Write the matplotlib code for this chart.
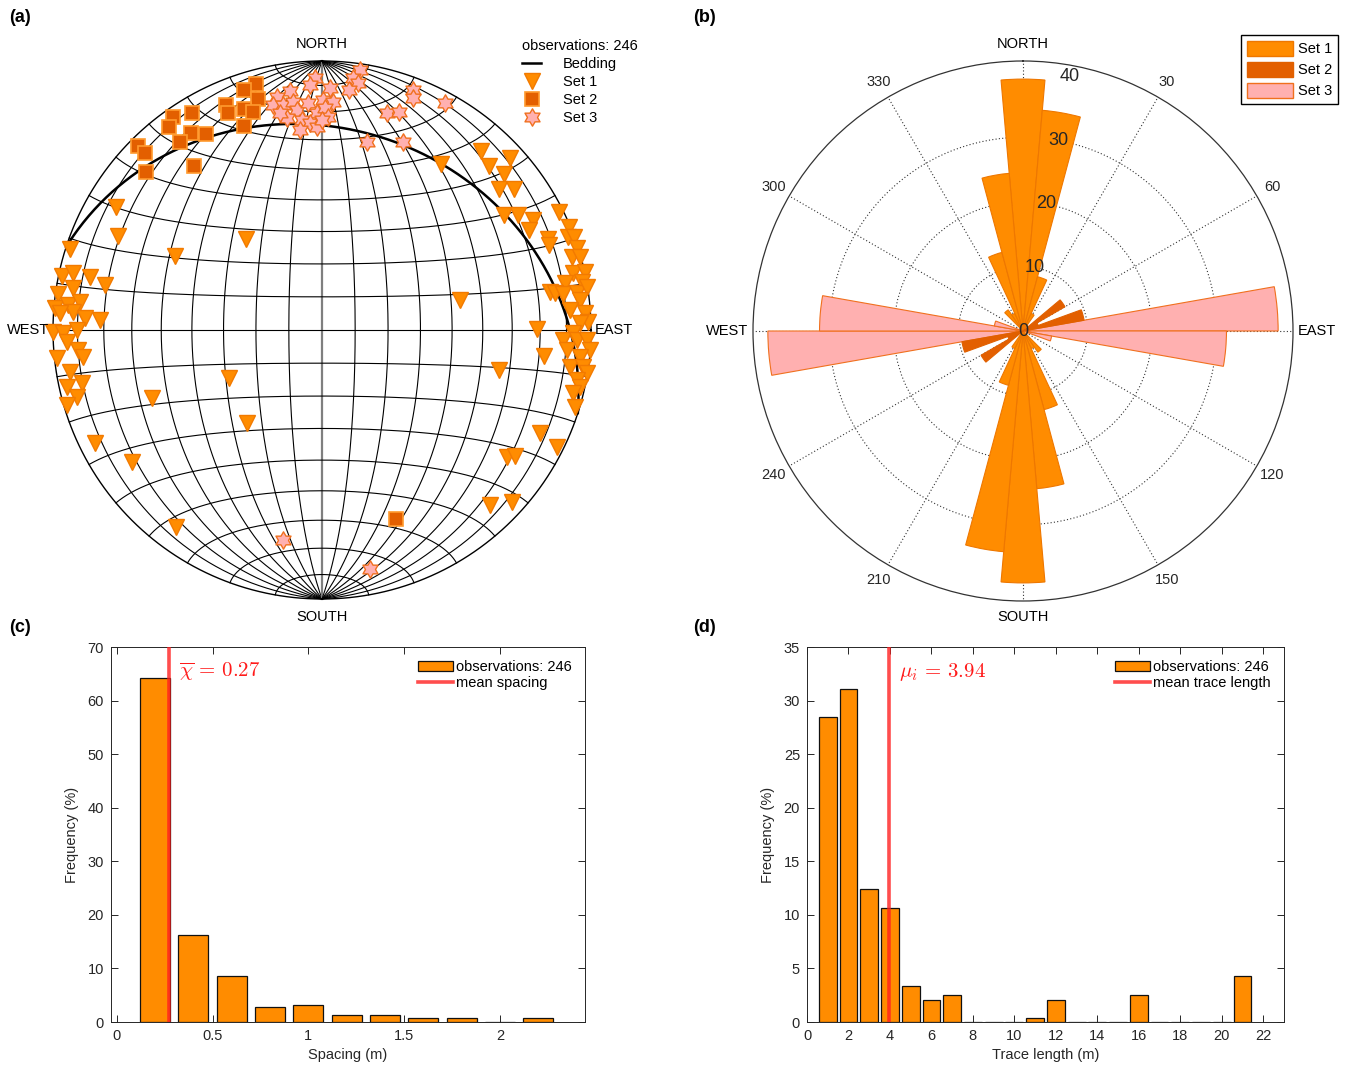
import numpy as np
import matplotlib
matplotlib.use('Agg')
import matplotlib.pyplot as plt
from matplotlib.path import Path
from matplotlib.lines import Line2D
from matplotlib.patches import Patch

plt.rcParams['font.family'] = ['Liberation Sans', 'DejaVu Sans']
plt.rcParams['mathtext.fontset'] = 'cm'

# ---------------- data ----------------
# (a) poles to joints (lower hemisphere, equal-area): trend / plunge in degrees
set1_trend = [35.6, 41.6, 47.5, 45.5, 49.4, 51.5, 53.7, 57.7, 59.6, 62.5, 64.2, 68.1, 69.5, 63.5, 67.4,
              69.3, 69.8, 72.2, 73.7, 74.2, 77.2, 77.6, 79.5, 79.1, 80.5, 81.0, 81.5, 81.7, 80.8, 77.7,
              89.7, 96.7, 102.7, 83.4, 85.4, 86.3, 88.3, 88.4, 90.7, 92.4, 94.7, 92.2, 92.2, 94.3, 96.0,
              98.5, 98.1, 99.2, 101.1, 102.5, 104.1, 106.9, 115.3, 116.5, 124.5, 123.1, 136.2, 132.2,
              300.8, 294.7, 287.8, 320.1, 296.7, 281.7, 282.9, 282.9, 281.7, 279.6, 277.8, 274.7, 275.6,
              276.6, 274.1, 273.7, 272.9, 272.6, 269.6, 269.3, 270.0, 267.3, 265.3, 263.6, 264.0, 260.5,
              257.6, 257.4, 254.7, 253.6, 248.2, 242.7, 218.9, 243.5, 235.2, 216.5]
set1_plunge = [25.0, 11.9, 5.9, 14.0, 11.8, 17.0, 12.4, 21.1, 16.6, 12.5, 15.6, 10.3, 10.8, 1.7, 0.6,
               2.4, 0.0, 0.5, 3.5, 0.4, 4.8, 0.0, 1.9, 8.8, 15.1, 13.2, 10.3, 4.7, 0.2, 46.4,
               21.2, 18.0, 33.0, 3.9, 8.3, 2.2, 1.2, 4.5, 7.4, 11.2, 9.4, 5.8, 1.6, 0.1, 4.0,
               7.5, 2.2, 0.2, 3.8, 2.0, 4.2, 1.9, 11.3, 2.6, 17.7, 15.4, 10.7, 5.2,
               11.7, 17.6, 1.7, 53.7, 38.7, 1.4, 5.6, 12.5, 18.7, 6.8, 1.0, 0.4, 5.8,
               10.3, 8.0, 2.6, 12.8, 18.5, 0.0, 4.1, 9.8, 5.8, 9.9, 11.5, 1.0, 5.6,
               9.5, 3.2, 6.3, 1.3, 32.4, 58.0, 53.4, 6.4, 15.0, 9.7]
set2_trend = [345.0, 342.0, 344.5, 337.0, 336.5, 340.5, 342.5, 339.0, 329.0, 325.0, 323.0, 326.5,
              329.5, 323.0, 315.0, 315.0, 322.0, 312.0, 158.5]
set2_plunge = [6.0, 7.0, 12.0, 10.0, 13.0, 14.0, 16.0, 20.0, 6.5, 4.0, 6.0, 13.0,
               16.5, 13.5, 3.5, 7.5, 23.5, 13.0, 25.5]
set3_trend = [8.3, 7.0, 8.3, 6.4, 358.4, 357.2, 352.4, 349.0, 347.7, 350.2, 352.8, 353.5, 350.6,
              354.6, 356.5, 358.7, 356.7, 353.7, 358.6, 0.3, 1.9, 2.8, 0.8, 1.6, 0.0, 349.0,
              20.8, 21.4, 28.5, 16.7, 19.5, 13.5, 23.3, 190.5, 168.7]
set3_plunge = [2.7, 6.3, 8.0, 11.0, 7.0, 9.6, 11.3, 12.8, 15.5, 16.2, 15.6, 18.8, 21.2,
               22.6, 16.5, 20.4, 23.9, 26.1, 25.4, 15.6, 10.9, 16.2, 18.6, 21.9, 23.0, 19.0,
               5.1, 8.1, 4.5, 16.9, 15.1, 28.9, 24.8, 21.7, 10.2]
bedding_dipdir = 18.0
bedding_dip = 26.0
n_obs = 246

# (b) rose diagram: strike bins (deg, bin centre) and frequencies, mirrored by 180 deg
rose_set1_centres = [0, 10, 20, 30, 140, 150, 160, 170]
rose_set1_values = [39.0, 34.3, 8.7, 3.0, 4.0, 3.0, 12.6, 24.5]
rose_set2_centres = [55, 65, 75]
rose_set2_values = [7.5, 2.5, 9.6]
rose_set3_centres = [75, 85, 95, 105]
rose_set3_values = [1.0, 39.5, 31.5, 4.5]
rose_bin_width = 10

# (c) spacing histogram
spacing_centres = [0.2, 0.4, 0.6, 0.8, 1.0, 1.2, 1.4, 1.6, 1.8, 2.0, 2.2]
spacing_counts = [158, 40, 21, 7, 8, 3, 3, 2, 2, 0, 2]
mean_spacing = 0.27

# (d) trace length histogram (percent)
trace_centres = list(range(1, 22))
trace_pct = [28.5, 31.1, 12.4, 10.65, 3.35, 2.1, 2.5, 0, 0, 0, 0.4, 2.1, 0, 0, 0, 2.5, 0, 0, 0, 0, 4.25]
mean_trace = 3.94

# ---------------- colours ----------------
c_set1 = '#FF8C00'
c_set1_edge = '#F27A00'
c_set2 = '#E35F00'
c_set2_edge = '#FF9A2E'
c_set3 = '#FFB0B0'
c_set3_edge = '#F0701E'
txt_col = '#262626'

W, H = 1349, 1070
fig = plt.figure(figsize=(W / 100, H / 100), dpi=100)


def ax_px(left, top, width, height, **kw):
    return fig.add_axes([left / W, 1 - (top + height) / H, width / W, height / H], **kw)


def proj(trend, plunge):
    t = np.radians(np.asarray(trend, float))
    p = np.radians(np.asarray(plunge, float))
    r = np.sqrt(2) * np.sin((np.pi / 2 - p) / 2)
    return r * np.sin(t), r * np.cos(t)


def hexagram():
    verts = []
    for i in range(12):
        ang = np.pi / 2 + i * np.pi / 6
        rr = 1.0 if i % 2 == 0 else 1 / np.sqrt(3)
        verts.append((rr * np.cos(ang), rr * np.sin(ang)))
    verts.append(verts[0])
    codes = [Path.MOVETO] + [Path.LINETO] * 11 + [Path.CLOSEPOLY]
    return Path(verts, codes)


HEX = hexagram()

# ---------------- (a) stereonet ----------------
cx, cy, R = 322, 330, 269
lim = 1.04
axa = ax_px(cx - lim * R, cy - lim * R, 2 * lim * R, 2 * lim * R)
axa.set_xlim(-lim, lim)
axa.set_ylim(-lim, lim)
axa.set_aspect('equal')
axa.axis('off')

phi = np.linspace(-np.pi / 2, np.pi / 2, 721)
for lam_d in range(-80, 81, 10):
    lam = np.radians(lam_d)
    den = np.sqrt(1 + np.cos(phi) * np.cos(lam))
    x = np.cos(phi) * np.sin(lam) / den
    y = np.sin(phi) / den
    if lam_d == 0:
        axa.plot(x, y, color='#7f7f7f', lw=1.6, zorder=1)
    else:
        axa.plot(x, y, color='k', lw=0.8, zorder=1)
lam_arr = np.linspace(-np.pi / 2, np.pi / 2, 721)
for phi_d in range(-80, 81, 10):
    ph = np.radians(phi_d)
    den = np.sqrt(1 + np.cos(ph) * np.cos(lam_arr))
    x = np.cos(ph) * np.sin(lam_arr) / den
    y = np.sin(ph) / den
    axa.plot(x, y, color='k', lw=0.8, zorder=1)
tt = np.linspace(0, 2 * np.pi, 721)
axa.plot(np.cos(tt), np.sin(tt), color='k', lw=1.0, zorder=1)

# bedding great circle
dd, dp = np.radians(bedding_dipdir), np.radians(bedding_dip)
th = np.linspace(0, np.pi, 361)
s_vec = np.array([np.cos(dd - np.pi / 2), np.sin(dd - np.pi / 2), 0.0])
d_vec = np.array([np.cos(dp) * np.cos(dd), np.cos(dp) * np.sin(dd), np.sin(dp)])
v = np.outer(np.cos(th), s_vec) + np.outer(np.sin(th), d_vec)
bed_pl = np.degrees(np.arcsin(np.clip(v[:, 2], -1, 1)))
bed_tr = np.degrees(np.arctan2(v[:, 1], v[:, 0]))
bx, by = proj(bed_tr, bed_pl)
axa.plot(bx, by, color='k', lw=1.8, zorder=2)

x1, y1 = proj(set1_trend, set1_plunge)
axa.plot(x1, y1, 'v', ms=11.5, mfc=c_set1, mec=c_set1_edge, mew=1.0, ls='none', zorder=3, clip_on=False)
x2, y2 = proj(set2_trend, set2_plunge)
axa.plot(x2, y2, 's', ms=9.5, mfc=c_set2, mec=c_set2_edge, mew=1.2, ls='none', zorder=4, clip_on=False)
x3, y3 = proj(set3_trend, set3_plunge)
axa.plot(x3, y3, marker=HEX, ms=12.5, mfc=c_set3, mec=c_set3_edge, mew=1.0, ls='none', zorder=5, clip_on=False)

fs = 10.5
axa.text(0, 1.0 + 17 / R, 'NORTH', ha='center', va='center', fontsize=fs, color='k')
axa.text(0, -1.0 - 18 / R, 'SOUTH', ha='center', va='center', fontsize=fs, color='k')
axa.text(-1.0 - 4 / R, 0.0, 'WEST', ha='right', va='center', fontsize=fs, color='k')
axa.text(1.0 + 4 / R, 0.0, 'EAST', ha='left', va='center', fontsize=fs, color='k')

handles_a = [Line2D([], [], color='k', lw=1.8),
             Line2D([], [], marker='v', ms=11.5, mfc=c_set1, mec=c_set1_edge, ls='none'),
             Line2D([], [], marker='s', ms=9.5, mfc=c_set2, mec=c_set2_edge, mew=1.2, ls='none'),
             Line2D([], [], marker=HEX, ms=12.5, mfc=c_set3, mec=c_set3_edge, ls='none')]
leg_a = fig.legend(handles_a, ['Bedding', 'Set 1', 'Set 2', 'Set 3'], title='observations: %d' % n_obs,
                   loc='upper left', bbox_to_anchor=(512 / W, 1 - 29 / H), frameon=False, fontsize=fs,
                   title_fontsize=fs, handlelength=1.3, handletextpad=1.5, labelspacing=0.27,
                   borderpad=0.2, alignment='left')

# ---------------- (b) rose diagram ----------------
rc_x, rc_y, rR = 1023, 331, 270
rmax = 41.8
axb = ax_px(rc_x - rR, rc_y - rR, 2 * rR, 2 * rR, projection='polar')
axb.set_theta_zero_location('N')
axb.set_theta_direction(-1)
axb.set_ylim(0, rmax)
axb.set_yticks([10, 20, 30])
axb.set_yticklabels([])
axb.set_xticks(np.radians(np.arange(0, 360, 30)))
axb.set_xticklabels([])
axb.grid(True, linestyle=(0, (1, 2)), color='#333333', lw=0.8)
axb.spines['polar'].set_linewidth(0.9)
axb.spines['polar'].set_color('#333333')

bw = np.radians(rose_bin_width)
for centres, vals, fc, ec in [(rose_set1_centres, rose_set1_values, c_set1, '#EE7700'),
                              (rose_set3_centres, rose_set3_values, c_set3, c_set3_edge),
                              (rose_set2_centres, rose_set2_values, c_set2, '#E06000')]:
    ang = np.radians(np.concatenate([np.asarray(centres, float), np.asarray(centres, float) + 180]))
    vv = np.concatenate([vals, vals])
    axb.bar(ang, vv, width=bw, color=fc, edgecolor=ec, lw=0.8, zorder=3)

for ang_d in [30, 60, 120, 150, 210, 240, 300, 330]:
    axb.text(np.radians(ang_d), 44.6, str(ang_d), ha='center', va='center', fontsize=10.5,
             color=txt_col, clip_on=False)
axb.text(0, 44.4, 'NORTH', ha='center', va='center', fontsize=fs, color='k', clip_on=False)
axb.text(np.pi, 44.3, 'SOUTH', ha='center', va='center', fontsize=fs, color='k', clip_on=False)
axb.text(np.pi / 2, 42.5, 'EAST', ha='left', va='center', fontsize=fs, color='k', clip_on=False)
axb.text(3 * np.pi / 2, 42.5, 'WEST', ha='right', va='center', fontsize=fs, color='k', clip_on=False)
for rv in [10, 20, 30, 40]:
    axb.text(np.radians(10.5), rv, str(rv), ha='center', va='center', fontsize=13, color=txt_col, zorder=6)
axb.text(0, 0, '0', ha='center', va='center', fontsize=13, color=txt_col, zorder=6)

leg_b = axb.legend([Patch(fc=c_set1, ec='#EE7700'), Patch(fc=c_set2, ec='#E06000'),
                    Patch(fc=c_set3, ec=c_set3_edge)], ['Set 1', 'Set 2', 'Set 3'],
                   loc='upper right', bbox_to_anchor=(1338 / W, 1 - 35 / H), bbox_transform=fig.transFigure,
                   fontsize=fs, fancybox=False, edgecolor='k', framealpha=1, handlelength=3.15,
                   handleheight=1.2, handletextpad=0.35, labelspacing=0.38, borderpad=0.4,
                   borderaxespad=0)
leg_b.get_frame().set_linewidth(1.0)


# ---------------- (c) & (d) histograms ----------------
def style_hist(ax):
    for sp in ax.spines.values():
        sp.set_color(txt_col)
        sp.set_linewidth(0.7)
    ax.tick_params(direction='in', top=True, right=True, length=5, width=0.7, colors=txt_col,
                   labelsize=10.5, pad=5)


axc = ax_px(111, 647, 474, 375)
pct_c = np.asarray(spacing_counts) / n_obs * 100
bars_c = axc.bar(spacing_centres, pct_c, width=0.157, color=c_set1, edgecolor='#111111', lw=0.9, zorder=2)
line_c = axc.axvline(mean_spacing, color='#FF2020', alpha=0.8, lw=2.6, zorder=3)
axc.set_xlim(-0.03, 2.443)
axc.set_ylim(0, 70)
axc.set_xticks([0, 0.5, 1, 1.5, 2])
axc.set_xticklabels(['0', '0.5', '1', '1.5', '2'])
axc.set_yticks(range(0, 71, 10))
style_hist(axc)
axc.set_xlabel('Spacing (m)', fontsize=10.5, color=txt_col, labelpad=4)
axc.set_ylabel('Frequency (%)', fontsize=10.5, color=txt_col, labelpad=6)
axc.text(0.325, 65.3, r'$\overline{\chi}\,=\,0.27$', color='#FF1A1A', fontsize=15, va='center', ha='left')
axc.legend([bars_c, line_c], ['observations: %d' % n_obs, 'mean spacing'], loc='upper right',
           frameon=False, fontsize=10.5, handlelength=2.4, handletextpad=0.2,
           labelspacing=0.15, borderaxespad=0.5)

axd = ax_px(807, 647, 477, 375)
bars_d = axd.bar(trace_centres, trace_pct, width=0.86, color=c_set1, edgecolor='#111111', lw=0.9, zorder=2)
line_d = axd.axvline(mean_trace, color='#FF2020', alpha=0.8, lw=2.6, zorder=3)
axd.set_xlim(0, 23)
axd.set_ylim(0, 35)
axd.set_xticks(range(0, 23, 2))
axd.set_yticks(range(0, 36, 5))
style_hist(axd)
axd.set_xlabel('Trace length (m)', fontsize=10.5, color=txt_col, labelpad=4)
axd.set_ylabel('Frequency (%)', fontsize=10.5, color=txt_col, labelpad=6)
axd.text(4.45, 32.7, r'$\mu_i\,=\,3.94$', color='#FF1A1A', fontsize=15, va='center', ha='left')
axd.legend([bars_d, line_d], ['observations: %d' % n_obs, 'mean trace length'], loc='upper right',
           frameon=False, fontsize=10.5, handlelength=2.4, handletextpad=0.2,
           labelspacing=0.15, borderaxespad=0.5)

# panel labels
for lab, x, y in [('(a)', 9, 17), ('(b)', 693, 17), ('(c)', 9, 628), ('(d)', 693, 628)]:
    fig.text(x / W, 1 - y / H, lab, fontsize=13, fontweight='bold', ha='left', va='center')

fig.savefig('out.png', dpi=100)
